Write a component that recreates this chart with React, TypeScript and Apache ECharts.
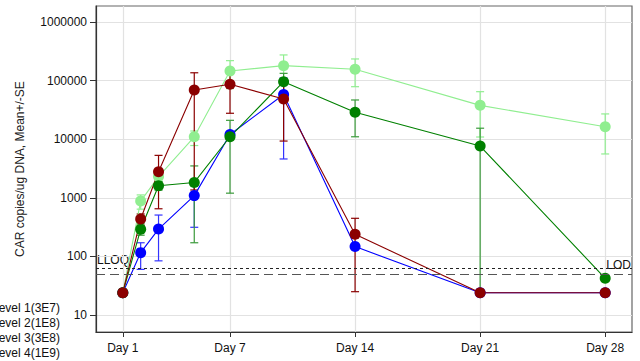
import React, { useEffect, useRef } from 'react';
import * as echarts from 'echarts';

const days = [1, 2, 3, 5, 7, 10, 14, 21, 28];
const xTickDays = [1, 7, 14, 21, 28];
const yTickValues = [10, 100, 1000, 10000, 100000, 1000000];
const levelNames = ['Level 1(3E7)', 'Level 2(1E8)', 'Level 3(3E8)', 'Level 4(1E9)'];

// Level 4 (light green)
const level4Mean = [24, 880, 2300, 11000, 146000, 180000, 156000, 37800, 16300];
const level4Low = [null, 640, 1900, 7800, 73000, 86000, 78700, 10900, 5600];
const level4High = [null, 1120, 2700, 13800, 219000, 274000, 234000, 64700, 27000];
// Level 1 (blue)
const level1Mean = [24, 116, 293, 1090, 12000, 58000, 147, 24, 24];
const level1Low = [null, 60, 84, 314, null, 4600, null, null, null];
const level1High = [null, 171, 508, 1860, null, 111000, null, null, null];
// Level 3 (green)
const level3Mean = [24, 290, 1610, 1830, 11000, 95700, 28800, 7650, 42.3];
const level3Low = [null, 230, 1350, 171, 1200, 58000, 11000, 25, 38];
const level3High = [null, 360, 1900, 3500, 21000, 133000, 46700, 15400, 47];
// Level 2 (dark red)
const level2Mean = [24, 434, 2790, 69000, 86500, 48500, 238, 24, 24];
const level2Low = [null, 340, 650, 1360, 27700, 9300, 25, null, null];
const level2High = [null, 530, 5300, 136000, 145000, 87500, 447, null, null];

const lloqValue = 62.5;
const lodValue = 50;

const FONT = 'Liberation Sans, Arial, sans-serif';

type Lvl = { name: string; color: string; errColor: string; mean: number[]; low: (number | null)[]; high: (number | null)[] };

const levels: Lvl[] = [
  { name: levelNames[3], color: '#90EE90', errColor: '#90EE90', mean: level4Mean, low: level4Low, high: level4High },
  { name: levelNames[0], color: '#0000FF', errColor: '#3333FF', mean: level1Mean, low: level1Low, high: level1High },
  { name: levelNames[2], color: '#008000', errColor: '#3a9a3a', mean: level3Mean, low: level3Low, high: level3High },
  { name: levelNames[1], color: '#8B0000', errColor: '#8B0000', mean: level2Mean, low: level2Low, high: level2High },
];

export default function App() {
  const ref = useRef<HTMLDivElement>(null);
  useEffect(() => {
    document.body.style.margin = '0';
    if (!ref.current) return;
    const chart = echarts.init(ref.current, undefined, { renderer: 'svg' });
    const series: any[] = [];
    levels.forEach((lv, li) => {
      const errData: number[][] = [];
      days.forEach((d, i) => {
        const lo = lv.low[i];
        const hi = lv.high[i];
        if (lo != null && hi != null) errData.push([d, Math.log10(lo), Math.log10(hi)]);
      });
      series.push({
        type: 'custom',
        name: lv.name + ' SE',
        data: errData,
        encode: { x: 0, y: [1, 2] },
        silent: true,
        renderItem: (params: any, api: any) => {
          const x = api.value(0);
          const p1 = api.coord([x, api.value(1)]);
          const p2 = api.coord([x, api.value(2)]);
          const w = 4;
          const style = { stroke: lv.errColor, lineWidth: 1.2 };
          return {
            type: 'group',
            children: [
              { type: 'line', shape: { x1: p1[0], y1: p1[1], x2: p2[0], y2: p2[1] }, style },
              { type: 'line', shape: { x1: p1[0] - w, y1: p1[1], x2: p1[0] + w, y2: p1[1] }, style },
              { type: 'line', shape: { x1: p2[0] - w, y1: p2[1], x2: p2[0] + w, y2: p2[1] }, style },
            ],
          };
        },
      });
      const lineSeries: any = {
        type: 'line',
        name: lv.name,
        data: days.map((d, i) => [d, Math.log10(lv.mean[i])]),
        symbol: 'circle',
        symbolSize: 11,
        showSymbol: true,
        lineStyle: { color: lv.color, width: 1.1 },
        itemStyle: { color: lv.color },
        silent: true,
      };
      if (li === 0) {
        lineSeries.markLine = {
          silent: true,
          symbol: 'none',
          label: { show: false },
          data: [
            { yAxis: Math.log10(lloqValue), lineStyle: { color: '#222', type: [3, 3], width: 1 } },
            { yAxis: Math.log10(lodValue), lineStyle: { color: '#555', type: [9, 5], width: 1.2 } },
          ],
        };
      }
      series.push(lineSeries);
    });

    const graphicTexts: any[] = levelNames.map((n, i) => ({
      type: 'text',
      x: 60,
      y: 308 + i * 15,
      style: { text: n, font: `12px ${FONT}`, fill: '#111', align: 'right', verticalAlign: 'middle', textAlign: 'right', textVerticalAlign: 'middle' },
    }));
    graphicTexts.push({
      type: 'text',
      x: 20,
      y: 169,
      rotation: Math.PI / 2,
      style: { text: 'CAR copies/ug DNA, Mean+/-SE', font: `12px ${FONT}`, fill: '#222', align: 'center', verticalAlign: 'middle', textAlign: 'center', textVerticalAlign: 'middle' },
    });
    graphicTexts.push({
      type: 'text',
      x: 97,
      y: 260,
      style: { text: 'LLOQ', font: `12px ${FONT}`, fill: '#111', align: 'left', verticalAlign: 'middle', textAlign: 'left', textVerticalAlign: 'middle' },
    });
    graphicTexts.push({
      type: 'text',
      x: 631,
      y: 265,
      style: { text: 'LOD', font: `12px ${FONT}`, fill: '#111', align: 'right', verticalAlign: 'middle', textAlign: 'right', textVerticalAlign: 'middle' },
    });

    chart.setOption({
      animation: false,
      backgroundColor: '#ffffff',
      grid: { left: 96, right: 8, top: 6, bottom: 29, show: true, borderColor: '#666', borderWidth: 1.2, containLabel: false, outerBoundsMode: 'none' },
      xAxis: {
        type: 'value',
        min: -0.5,
        max: 29.5,
        axisLine: { show: true, onZero: false, lineStyle: { color: '#333', width: 1.2 } },
        axisTick: { show: true, length: 5, customValues: xTickDays, lineStyle: { color: '#333' } },
        axisLabel: { customValues: xTickDays, formatter: (v: number) => 'Day ' + v, color: '#111', fontSize: 12, fontFamily: FONT, margin: 10 },
        splitLine: { show: true, lineStyle: { color: '#e2e2e2', width: 1.2 } },
      },
      yAxis: {
        type: 'value',
        min: Math.log10(5.13),
        max: Math.log10(1.875e6),
        axisLine: { show: true, onZero: false, lineStyle: { color: '#333', width: 1.2 } },
        axisTick: { show: true, length: 6, customValues: yTickValues.map((v) => Math.log10(v)), lineStyle: { color: '#333' } },
        axisLabel: {
          customValues: yTickValues.map((v) => Math.log10(v)),
          formatter: (v: number) => String(Math.round(Math.pow(10, v))),
          color: '#111',
          fontSize: 12,
          fontFamily: FONT,
          margin: 9,
        },
        splitLine: { show: true, lineStyle: { color: '#e2e2e2', width: 1.2 } },
      },
      graphic: graphicTexts,
      series,
    });
    return () => chart.dispose();
  }, []);
  return <div ref={ref} style={{ width: 640, height: 361 }} />;
}
